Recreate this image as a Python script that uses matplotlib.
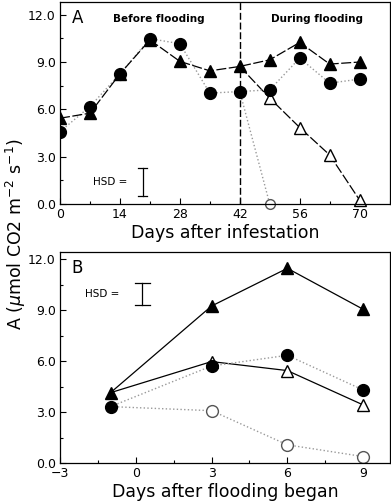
import matplotlib
matplotlib.use("Agg")
import matplotlib.pyplot as plt
from matplotlib.ticker import MultipleLocator

plt.rcParams["font.family"] = "DejaVu Sans"

# Panel A: days after infestation
days_a = [0, 7, 14, 21, 28, 35, 42, 49, 56, 63, 70]
ctrl_tri = [5.44, 5.76, 8.25, 10.4, 9.04, 8.44, 8.72, 9.14, 10.24, 8.87, 9.0]
ctrl_circ = [4.59, 6.18, 8.25, 10.48, 10.16, 7.03, 7.13, 7.24, 9.25, 7.66, 7.92]
flood_days_tri = [42, 49, 56, 63, 70]
flood_tri = [8.72, 6.71, 4.85, 3.11, 0.25]
flood_days_circ = [42, 49]
flood_circ = [7.13, 0.0]
hsd_a = (19.3, 0.5, 2.3)

# Panel B: days after flooding began
days_b = [-1, 3, 6, 9]
b_filled_tri = [4.15, 9.25, 11.47, 9.06]
b_filled_circ = [3.33, 5.72, 6.35, 4.31]
b_open_tri = [4.15, 5.98, 5.45, 3.43]
b_open_circ = [3.33, 3.09, 1.08, 0.39]
hsd_b = (0.25, 9.31, 10.62)

fig = plt.figure(figsize=(3.91, 5.04), dpi=100)
ax_a = fig.add_axes([0.1535, 0.595, 0.843, 0.401])
ax_b = fig.add_axes([0.1535, 0.081, 0.843, 0.419])

solid_kw = dict(color="black", linewidth=0.9)
dot_kw = dict(color="#999999", linewidth=1.0, linestyle=":")
ms = 8.5

# ---- panel A
ax_a.plot(days_a, ctrl_tri, linestyle=(0, (8, 2)), marker="^", markersize=ms,
          markerfacecolor="black", markeredgecolor="black", zorder=4, **solid_kw)
ax_a.plot(days_a, ctrl_circ, marker="o", markersize=ms, markerfacecolor="black",
          markeredgecolor="black", zorder=3, **dot_kw)
ax_a.plot(flood_days_tri, flood_tri, linestyle=(0, (8, 2)), marker="^", markersize=ms,
          markerfacecolor="white", markeredgecolor="black",
          markevery=range(1, len(flood_days_tri)), zorder=2, clip_on=False, **solid_kw)
ax_a.plot(flood_days_circ, flood_circ, marker="o", markersize=7, markerfacecolor="white",
          markeredgecolor="#555555", markevery=[1], zorder=2, clip_on=False, **dot_kw)
ax_a.axvline(42, color="black", linestyle=(0, (5, 2)), linewidth=1.0, zorder=1)

ax_a.set_xlim(0, 77)
ax_a.set_ylim(0, 12.8)
ax_a.xaxis.set_major_locator(MultipleLocator(14))
ax_a.xaxis.set_minor_locator(MultipleLocator(7))
ax_a.yaxis.set_major_locator(MultipleLocator(3))
ax_a.yaxis.set_minor_locator(MultipleLocator(1.5))
ax_a.yaxis.set_major_formatter(plt.FormatStrFormatter("%.1f"))
ax_a.set_xlabel("Days after infestation", fontsize=12.5, labelpad=2)
ax_a.text(0.035, 0.965, "A", transform=ax_a.transAxes, fontsize=12, va="top")
ax_a.text(0.30, 0.94, "Before flooding", transform=ax_a.transAxes, fontsize=7.5,
          ha="center", va="top", fontweight="bold")
ax_a.text(0.78, 0.94, "During flooding", transform=ax_a.transAxes, fontsize=7.5,
          ha="center", va="top", fontweight="bold")
x0, y0, y1 = hsd_a
ax_a.plot([x0, x0], [y0, y1], color="black", linewidth=0.9)
ax_a.plot([x0 - 1.1, x0 + 1.1], [y0, y0], color="black", linewidth=0.9)
ax_a.plot([x0 - 1.1, x0 + 1.1], [y1, y1], color="black", linewidth=0.9)
ax_a.text(x0 - 3.5, (y0 + y1) / 2, "HSD =", fontsize=7.5, ha="right", va="center")

# ---- panel B
ax_b.plot(days_b, b_filled_tri, marker="^", markersize=ms, markerfacecolor="black",
          markeredgecolor="black", zorder=4, **solid_kw)
ax_b.plot(days_b, b_filled_circ, marker="o", markersize=ms, markerfacecolor="black",
          markeredgecolor="black", zorder=3, **dot_kw)
ax_b.plot(days_b, b_open_tri, marker="^", markersize=ms, markerfacecolor="white",
          markeredgecolor="black", markevery=[1, 2, 3], zorder=2, **solid_kw)
ax_b.plot(days_b, b_open_circ, marker="o", markersize=ms, markerfacecolor="white",
          markeredgecolor="#555555", markevery=[1, 2, 3], zorder=2, **dot_kw)

ax_b.set_xlim(-3, 10.05)
ax_b.set_ylim(0, 12.43)
ax_b.xaxis.set_major_locator(MultipleLocator(3))
ax_b.xaxis.set_minor_locator(MultipleLocator(1.5))
ax_b.yaxis.set_major_locator(MultipleLocator(3))
ax_b.yaxis.set_minor_locator(MultipleLocator(1.5))
ax_b.yaxis.set_major_formatter(plt.FormatStrFormatter("%.1f"))
ax_b.set_xlabel("Days after flooding began", fontsize=12.5, labelpad=2)
ax_b.text(0.035, 0.965, "B", transform=ax_b.transAxes, fontsize=12, va="top")
x0, y0, y1 = hsd_b
ax_b.plot([x0, x0], [y0, y1], color="black", linewidth=0.9)
ax_b.plot([x0 - 0.3, x0 + 0.3], [y0, y0], color="black", linewidth=0.9)
ax_b.plot([x0 - 0.3, x0 + 0.3], [y1, y1], color="black", linewidth=0.9)
ax_b.text(x0 - 0.9, (y0 + y1) / 2, "HSD =", fontsize=7.5, ha="right", va="center")

for ax in (ax_a, ax_b):
    ax.tick_params(which="both", direction="in", labelsize=9, width=0.8)
    ax.tick_params(which="major", length=4, pad=3)
    ax.tick_params(which="minor", length=2)
    for s in ax.spines.values():
        s.set_linewidth(0.9)

fig.text(0.04, 0.535, r"A ($\mu$mol CO2 m$^{-2}$ s$^{-1}$)", rotation=90,
         fontsize=12.5, ha="center", va="center")

fig.savefig("out.png", dpi=100)
